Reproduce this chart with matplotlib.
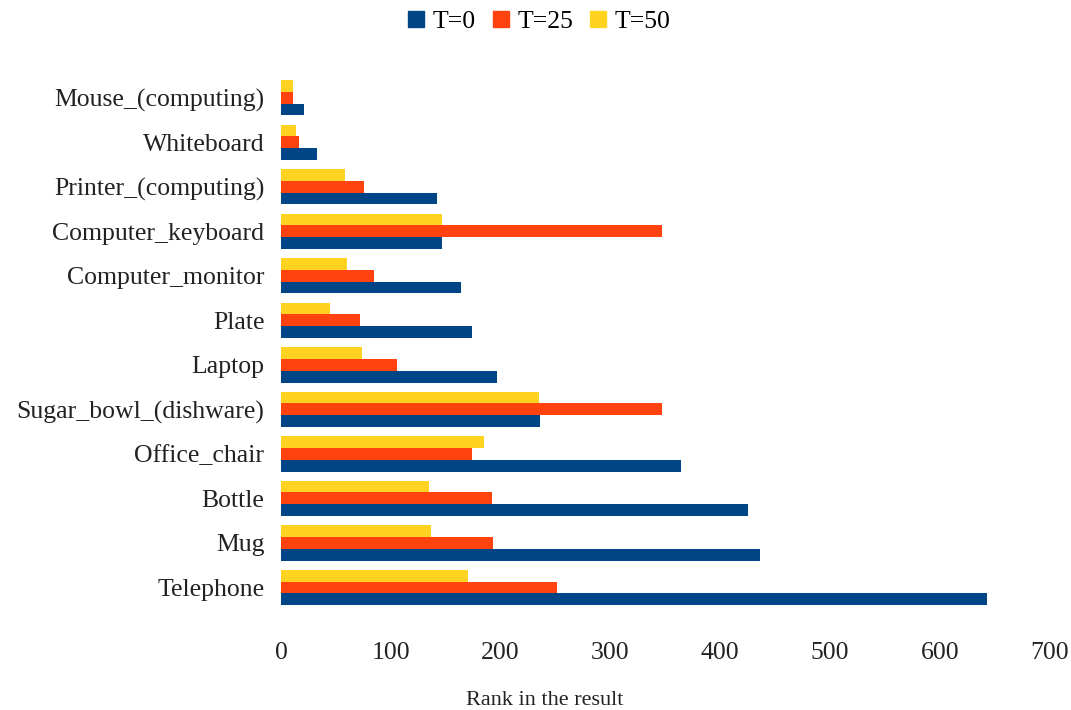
import numpy as np
import matplotlib.pyplot as plt

# categories listed bottom to top
categories = ['Telephone', 'Mug', 'Bottle', 'Office_chair', 'Sugar_bowl_(dishware)',
              'Laptop', 'Plate', 'Computer_monitor', 'Computer_keyboard',
              'Printer_(computing)', 'Whiteboard', 'Mouse_(computing)']
t0 = [643, 436, 425, 364, 236, 197, 174, 164, 147, 142, 33, 21]
t25 = [251, 193, 192, 174, 347, 106, 72, 85, 347, 76, 16, 11]
t50 = [170, 137, 135, 185, 235, 74, 45, 60, 147, 58, 14, 11]
series_names = ['T=0', 'T=25', 'T=50']
colors = ['#004586', '#ff420e', '#ffd320']

plt.rcParams['font.family'] = ['Liberation Serif', 'DejaVu Serif']

fig = plt.figure(figsize=(10.71, 7.10), dpi=100)
ax = fig.add_axes([0.2624, 0.135, 0.7176, 0.765])

y = np.arange(len(categories))
h = 0.265
ax.barh(y - h, t0, height=h, color=colors[0], label=series_names[0])
ax.barh(y, t25, height=h, color=colors[1], label=series_names[1])
ax.barh(y + h, t50, height=h, color=colors[2], label=series_names[2])

ax.set_xlim(0, 700)
ax.set_ylim(-0.6, 11.6)
ax.set_xticks(np.arange(0, 701, 100))
ax.set_yticks(y)
ax.set_yticklabels(categories)
ax.tick_params(axis='both', length=0, labelsize=18.5, colors='#222222')
ax.tick_params(axis='x', pad=20)
ax.tick_params(axis='y', pad=12)
for s in ax.spines.values():
    s.set_visible(False)

# axis title sits left of the axes centre in the original
fig.text(545 / 1071, 0.013, 'Rank in the result', fontsize=16, color='#222222',
         ha='center', va='center')

handles = [plt.Line2D([], [], marker='s', linestyle='', markersize=11, color=c) for c in colors]
fig.legend(handles, series_names, loc='center', bbox_to_anchor=(0.503, 0.97), ncol=3,
           frameon=False, fontsize=18.5, handlelength=0.7, handletextpad=0.3,
           columnspacing=0.6)

fig.savefig('out.png', dpi=100)
